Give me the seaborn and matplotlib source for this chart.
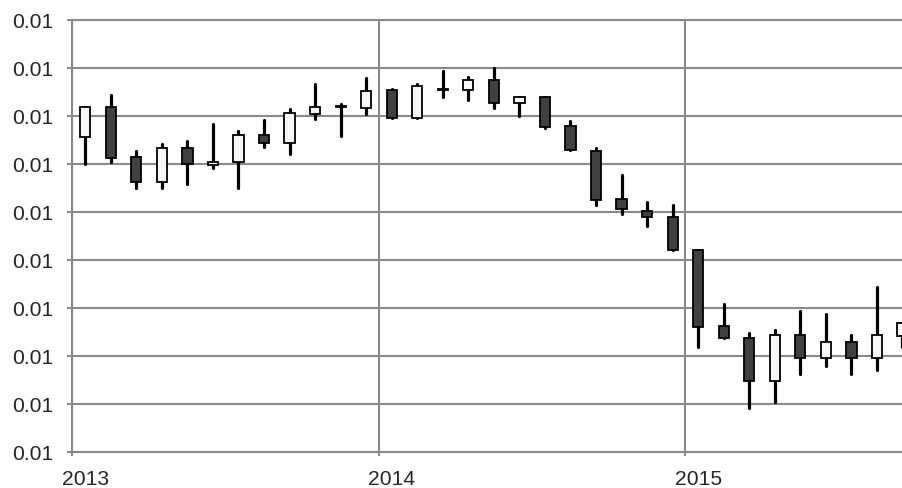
import numpy as np
import pandas as pd
import matplotlib
matplotlib.use("Agg")
import matplotlib.pyplot as plt
import seaborn as sns
from matplotlib.ticker import FormatStrFormatter, FixedLocator

# monthly candles, Jan 2013 .. Sep 2015
months = pd.period_range("2013-01", "2015-09", freq="M").strftime("%Y-%m").tolist()

open_ = [0.011311, 0.011435, 0.011227, 0.011123, 0.011267, 0.011195, 0.011206, 0.011318,
         0.011285, 0.011407, 0.011440, 0.011433, 0.011507, 0.011392, 0.011513, 0.011508,
         0.011548, 0.011452, 0.011478, 0.011356, 0.011252, 0.011052, 0.011004, 0.010978,
         0.010840, 0.010524, 0.010474, 0.010296, 0.010485, 0.010392, 0.010457, 0.010392,
         0.010482]
close = [0.011435, 0.011225, 0.011125, 0.011267, 0.011198, 0.011207, 0.011320, 0.011285,
         0.011410, 0.011436, 0.011436, 0.011504, 0.011392, 0.011523, 0.011509, 0.011548,
         0.011452, 0.011478, 0.011352, 0.011256, 0.011050, 0.011010, 0.010977, 0.010839,
         0.010518, 0.010474, 0.010296, 0.010485, 0.010392, 0.010457, 0.010392, 0.010485,
         0.010536]
high = [0.011435, 0.011486, 0.011252, 0.011281, 0.011295, 0.011365, 0.011336, 0.011382,
        0.011427, 0.011532, 0.011448, 0.011556, 0.011510, 0.011532, 0.011586, 0.011560,
        0.011598, 0.011478, 0.011479, 0.011378, 0.011265, 0.011153, 0.011040, 0.011028,
        0.010842, 0.010615, 0.010493, 0.010507, 0.010586, 0.010573, 0.010485, 0.010685,
        0.010536]
low = [0.011198, 0.011208, 0.011100, 0.011100, 0.011117, 0.011181, 0.011100, 0.011271,
       0.011242, 0.011388, 0.011317, 0.011408, 0.011392, 0.011392, 0.011479, 0.011467,
       0.011433, 0.011400, 0.011348, 0.011256, 0.011029, 0.010992, 0.010942, 0.010839,
       0.010438, 0.010474, 0.010183, 0.010208, 0.010325, 0.010356, 0.010325, 0.010342,
       0.010435]

years = ["2013", "2014", "2015"]
y_ticks = [0.0100, 0.0102, 0.0104, 0.0106, 0.0108, 0.0110, 0.0112, 0.0114, 0.0116, 0.0118]

sns.set_style("white")
plt.rcParams["font.family"] = ["Liberation Sans", "DejaVu Sans"]

grid_col = "#8a8a8a"
pos = np.arange(len(months)) + 0.5

fig = plt.figure(figsize=(9.03, 4.89), dpi=100)
ax = fig.add_axes([72.5 / 903, 36.3 / 489, 830.5 / 903, 432.0 / 489])

# wicks through seaborn
wicks = pd.DataFrame({
    "x": np.repeat(pos, 2),
    "y": np.ravel(np.column_stack([low, high])),
    "candle": np.repeat(np.arange(len(months)), 2),
})
sns.lineplot(data=wicks, x="x", y="y", units="candle", estimator=None, sort=False,
             color="black", lw=2.3, ax=ax, zorder=2, legend=False)

# bodies
o = np.array(open_)
c = np.array(close)
fills = np.where(c >= o, "#f7f7f7", "#404040")
ax.bar(pos, c - o, bottom=o, width=0.4, color=fills, edgecolor="black",
       linewidth=1.3, zorder=3)

ax.set_xlim(0, 32.52)
ax.set_ylim(0.0100, 0.0118)
ax.set_yticks(y_ticks)
ax.yaxis.set_major_formatter(FormatStrFormatter("%.2f"))

ax.xaxis.set_major_locator(FixedLocator([0, 12, 24, 36]))
ax.xaxis.set_major_formatter(plt.NullFormatter())
ax.xaxis.set_minor_locator(FixedLocator([0.5, 12.5, 24.5]))
ax.set_xticklabels(years, minor=True)

ax.grid(True, which="major", color=grid_col, lw=1.5, zorder=0)
ax.set_axisbelow(True)
for side in ["left", "bottom", "top"]:
    ax.spines[side].set_color(grid_col)
    ax.spines[side].set_linewidth(1.5)
ax.spines["right"].set_visible(False)

ax.tick_params(axis="y", which="major", length=3.6, width=1.4, color=grid_col,
               labelsize=15.2, pad=10, left=True)
ax.tick_params(axis="x", which="major", length=3.0, width=1.4, color=grid_col, bottom=True)
ax.tick_params(axis="x", which="minor", length=0, labelsize=15.2, pad=12.5)
ax.set_xlabel("")
ax.set_ylabel("")

fig.savefig("out.png", dpi=100)
